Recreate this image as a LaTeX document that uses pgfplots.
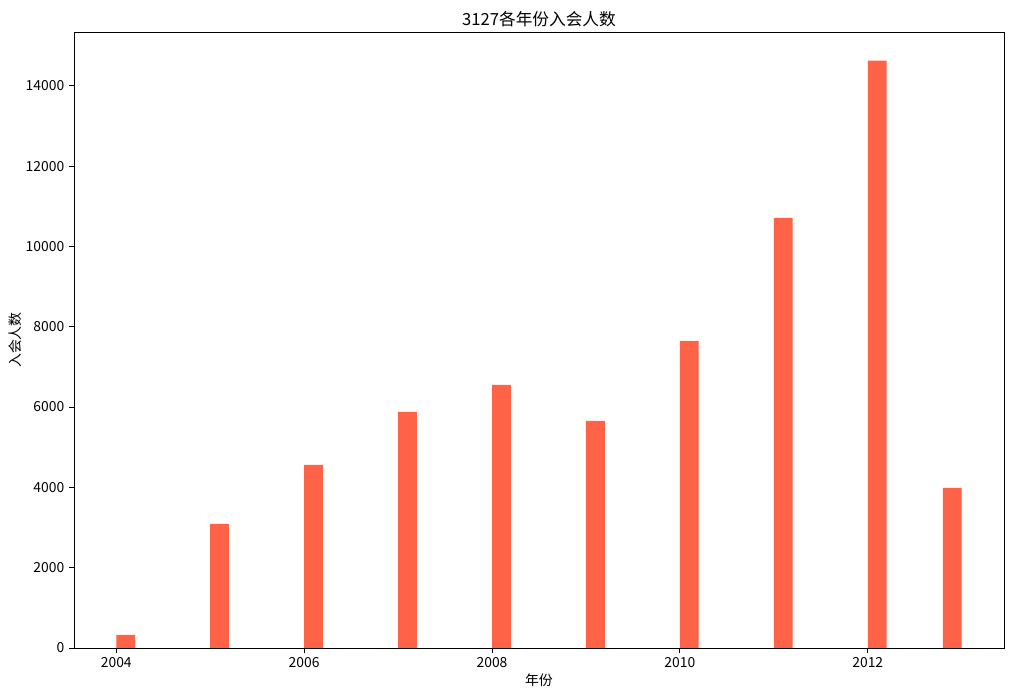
\documentclass[border=0pt]{standalone}
\usepackage{pgfplots}
\pgfplotsset{compat=1.18}
\usepackage{fontspec}
\setmainfont{Noto Sans CJK SC}
\definecolor{tomato}{HTML}{FF6347}
\begin{document}
\begin{tikzpicture}
\useasboundingbox (0pt,0pt) rectangle (729.36pt,502.56pt);
\begin{axis}[
  at={(53.28pt,36pt)}, anchor=south west,
  scale only axis, width=669.6pt, height=443.5pt,
  xmin=2003.55, xmax=2013.45, ymin=0, ymax=15338,
  xtick={2004,2006,2008,2010,2012},
  ytick={0,2000,4000,6000,8000,10000,12000,14000},
  scaled ticks=false,
  /pgf/number format/1000 sep={},
  /pgf/number format/assume math mode=true,
  tick align=outside, major tick length=3.5pt,
  xtick pos=bottom, ytick pos=left,
  tick style={black, line width=0.6pt},
  axis line style={line width=0.6pt},
  ticklabel style={font=\fontsize{10}{12}\selectfont},
  xlabel={年份}, ylabel={入会人数},
  label style={font=\fontsize{10}{12}\selectfont},
  title={3127各年份入会人数},
  title style={font=\fontsize{12}{14}\selectfont, yshift=-5.5pt},
  xlabel style={yshift=3pt},
  ylabel style={yshift=-4pt},
  ybar, bar width=0.2, bar shift=0pt,
]
\addplot[fill=tomato, draw=none] coordinates {
(2004.1,324) (2005.1,3089) (2006.1,4559) (2007.1,5880) (2008.1,6552)
(2009.1,5655) (2010.1,7648) (2011.1,10712) (2012.1,14624) (2012.9,3986)
};
\end{axis}
\end{tikzpicture}
\end{document}
